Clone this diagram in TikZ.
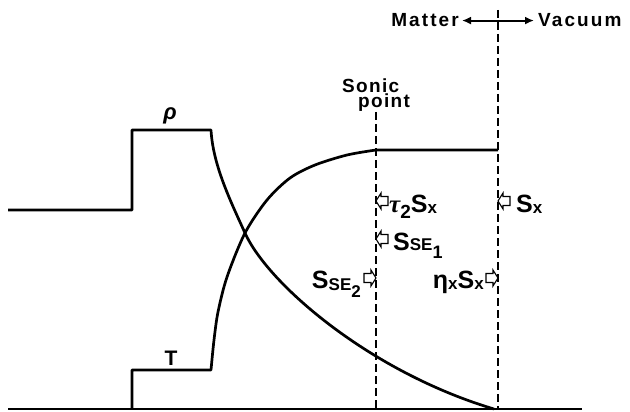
\documentclass[tikz,border=0pt]{standalone}
\usepackage{fontspec}
\setmainfont{Liberation Sans}
\newfontfamily\widefont[LetterSpace=11]{Liberation Sans}
\newfontfamily\midfont[LetterSpace=7]{Liberation Sans}
\newfontfamily\greekserif{Liberation Serif}
\usetikzlibrary{arrows.meta}
\newcommand\subx{\raisebox{-1pt}{\fontsize{17}{17}\selectfont x}}
\begin{document}
\begin{tikzpicture}[x=1pt,y=-1pt,
  curve/.style={line width=2.7pt, line join=round},
  guide/.style={line width=1.4pt, dash pattern=on 8pt off 4pt},
  hollow/.style={line width=1.1pt, line join=miter, fill=white},
  lbl/.style={inner sep=0pt, font=\fontsize{25}{25}\selectfont\bfseries},
  head/.style={inner sep=0pt, font=\fontsize{19}{19}\selectfont\bfseries},
  ltip/.pic={\draw[hollow] (0,0) -- (5,-8) -- (5,-4.5) -- (12,-4.5) -- (12,4.5) -- (5,4.5) -- (5,8) -- cycle;},
  rtip/.pic={\draw[hollow] (0,0) -- (-5,-8) -- (-5,-4.5) -- (-12,-4.5) -- (-12,4.5) -- (-5,4.5) -- (-5,8) -- cycle;}
]
\useasboundingbox (0,0) rectangle (630,412);
% axis
\coordinate (b0) at (8,409);
\coordinate (b1) at (582,409);
\draw[curve] (b0) -- (b1);
% density rho
\coordinate (r0) at (8,210);
\coordinate (r1) at (132,210);
\coordinate (r2) at (132,130);
\coordinate (r3) at (211,130);
\coordinate (rx) at (245,233);
\coordinate (r4) at (494,409);
\draw[curve] (r0) -- (r1) -- (r2) -- (r3) .. controls (213,165) and (230,200) .. (rx) .. controls (268,284) and (370,372) .. (r4);
% temperature T
\coordinate (t0) at (132,409);
\coordinate (t1) at (132,370);
\coordinate (t2) at (211,370);
\coordinate (t3) at (376,150);
\coordinate (t4) at (498,150);
\draw[curve] (t0) -- (t1) -- (t2) -- plot[smooth] coordinates {(211,370) (214,340) (218,312) (227,277) (245,233) (267,200) (290,178) (315,165) (347,155) (376,150)} -- (t4);
% guides
\coordinate (s0) at (376,112);
\coordinate (s1) at (376,409);
\coordinate (m0) at (498,10);
\coordinate (m1) at (498,409);
\draw[guide] (s0) -- (s1);
\draw[guide] (m0) -- (m1);
% curve labels
\node[inner sep=0pt, font=\fontsize{22}{22}\selectfont\bfseries\itshape] (rho) at (170,116) {ρ};
\node[inner sep=0pt, font=\fontsize{21}{21}\selectfont\bfseries] (T) at (171,358) {T};
% headings
\node[inner sep=0pt, align=left, anchor=base west, font=\fontsize{19}{15}\selectfont\bfseries\midfont] (sonic) at (342,107) {Sonic\\\hspace*{16pt}point};
\node[head, anchor=base east] (mat) at (459,27) {\widefont Matter};
\node[head, anchor=base west] (vac) at (538,27) {\widefont Vacuum};
\draw[line width=2pt, {Latex[length=9pt,width=8pt]}-{Latex[length=9pt,width=8pt]}] ([xshift=3pt]mat.east) -- ([xshift=-4pt]vac.west);
% flux labels
\node[lbl, anchor=base west] (tau) at (389,212) {{\greekserif\itshape τ}\raisebox{-6pt}{\fontsize{19}{19}\selectfont 2}S\subx};
\pic at (376,201) {ltip};
\node[lbl, anchor=base west] (sx) at (516,212) {S\subx};
\pic at (498,201) {ltip};
\node[lbl, anchor=base west] (se1) at (393,250) {S{\fontsize{17}{17}\selectfont SE\raisebox{-8pt}{\fontsize{18}{18}\selectfont 1}}};
\pic at (376,239) {ltip};
\node[lbl, anchor=base east] (se2) at (361,288) {S\raisebox{-2pt}{\fontsize{17}{17}\selectfont SE\raisebox{-7pt}{\fontsize{17}{17}\selectfont 2}}};
\pic at (376,278) {rtip};
\node[lbl, anchor=base east] (eta) at (484,288) {η\subx S\subx};
\pic at (498,278) {rtip};
\end{tikzpicture}
\end{document}
